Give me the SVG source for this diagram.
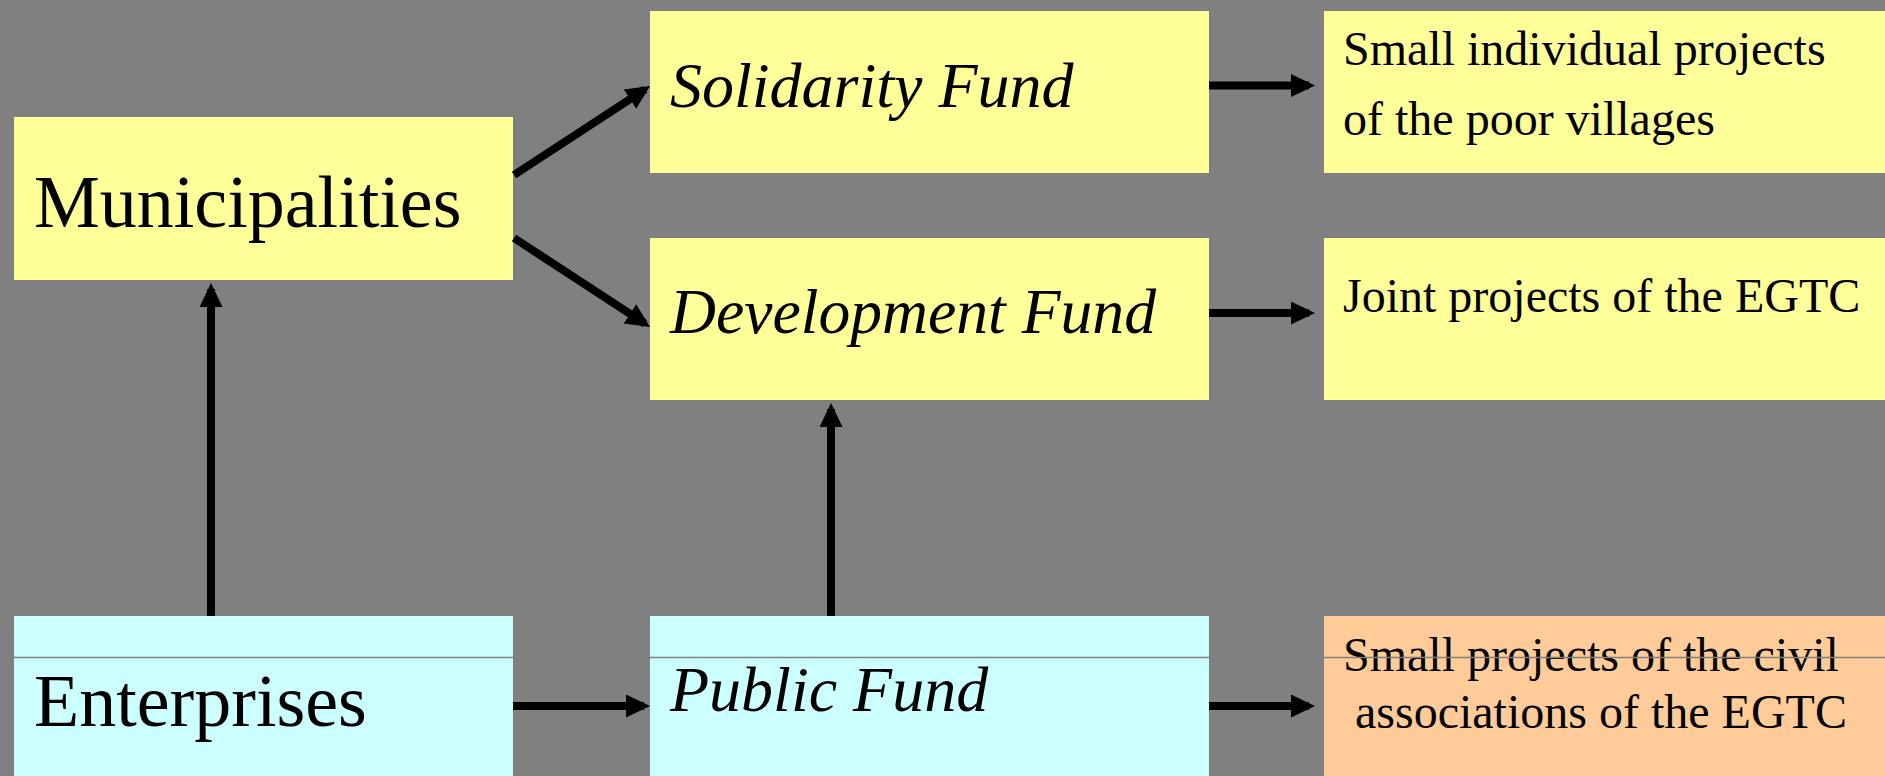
<svg xmlns="http://www.w3.org/2000/svg" width="1885" height="776" viewBox="0 0 1885 776">
<defs>
<marker id="ah" markerUnits="userSpaceOnUse" markerWidth="26" markerHeight="26" refX="18" refY="11.5" orient="auto">
<path d="M0,0 L24,11.5 L0,23 z" fill="#000"/>
</marker>
<style>
.yel{fill:#FFFF99}
.cyan{fill:#CCFFFF}
.org{fill:#FFCC99}
text{font-family:'Liberation Serif','Times New Roman',Times,serif;fill:#000}
.big{font-size:74px}
.it{font-size:64px;font-style:italic}
.sm{font-size:48px}
.conn line{stroke:#000;stroke-width:8;marker-end:url(#ah)}
</style>
</defs>
<rect width="1885" height="776" fill="#808080"/>
<g id="municipalities"><rect class="yel" x="14" y="117" width="499" height="163"/><text class="big" x="34" y="227">Municipalities</text></g>
<g id="solidarity-fund"><rect class="yel" x="650" y="11" width="559" height="162"/><text class="it" x="670" y="107">Solidarity Fund</text></g>
<g id="development-fund"><rect class="yel" x="650" y="238" width="559" height="162"/><text class="it" x="670" y="333" textLength="486" lengthAdjust="spacingAndGlyphs">Development Fund</text></g>
<g id="small-individual"><rect class="yel" x="1324" y="11" width="561" height="162"/><text class="sm" x="1343" y="65">Small individual projects</text><text class="sm" x="1343" y="135">of the poor villages</text></g>
<g id="joint-projects"><rect class="yel" x="1324" y="238" width="561" height="162"/><text class="sm" x="1343" y="312">Joint projects of the EGTC</text></g>
<g id="enterprises"><rect class="cyan" x="14" y="616" width="499" height="160"/><text class="big" x="34" y="726">Enterprises</text></g>
<g id="public-fund"><rect class="cyan" x="650" y="616" width="559" height="160"/><text class="it" x="670" y="711">Public Fund</text></g>
<g id="civil-projects"><rect class="org" x="1324" y="616" width="561" height="160"/><text class="sm" x="1343" y="671">Small projects of the civil</text><text class="sm" x="1355" y="728">associations of the EGTC</text></g>
<g id="connectors" class="conn">
<line x1="514" y1="175" x2="645" y2="89.3"/>
<line x1="514" y1="238" x2="645" y2="323.7"/>
<line x1="211" y1="616" x2="211" y2="289"/>
<line x1="831" y1="616" x2="831" y2="409"/>
<line x1="1209" y1="85.5" x2="1309" y2="85.5"/>
<line x1="1209" y1="313" x2="1309" y2="313"/>
<line x1="513" y1="706" x2="644" y2="706"/>
<line x1="1209" y1="706" x2="1309" y2="706"/>
</g>
<line x1="14" y1="657.5" x2="1885" y2="657.5" stroke="#808080" stroke-width="1.3"/>
</svg>
